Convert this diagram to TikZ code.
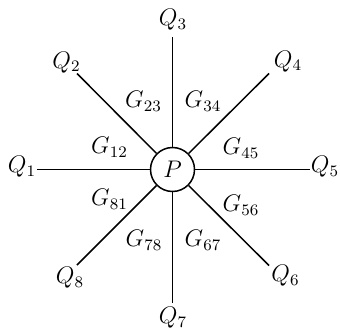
\documentclass[tikz,border=0pt]{standalone}
\begin{document}
\begin{tikzpicture}[x=0.5pt,y=-0.5pt,
  font=\fontsize{12}{14}\selectfont,
  spoke/.style={line width=0.75pt},
  hub/.style={circle,draw,line width=0.75pt,minimum size=22pt,inner sep=0pt},
  lab/.style={inner sep=0pt}]
\useasboundingbox (0,0) rectangle (340,331);
\node[hub] (P) at (172.5,169.5) {$P$};
% line ends
\coordinate (e1) at (36.5,169.5);
\coordinate (e2) at (77,73.5);
\coordinate (e3) at (172.5,37);
\coordinate (e4) at (269,73.5);
\coordinate (e5) at (310,169.5);
\coordinate (e6) at (269,265.5);
\coordinate (e7) at (172.5,303);
\coordinate (e8) at (77,265);
\foreach \i in {1,...,8} \draw[spoke] (P) -- (e\i);
% outer labels
\node[lab] (Q1) at (22,167) {$Q_1$};
\node[lab] (Q2) at (66.5,62.5) {$Q_2$};
\node[lab] (Q3) at (173,20) {$Q_3$};
\node[lab] (Q4) at (288,61.5) {$Q_4$};
\node[lab] (Q5) at (325,167) {$Q_5$};
\node[lab] (Q6) at (285.5,276) {$Q_6$};
\node[lab] (Q7) at (173,318) {$Q_7$};
\node[lab] (Q8) at (70,278) {$Q_8$};
% gap labels
\node[lab] (G12) at (109.5,147.5) {$G_{12}$};
\node[lab] (G23) at (143.5,101.5) {$G_{23}$};
\node[lab] (G34) at (203,101.5) {$G_{34}$};
\node[lab] (G45) at (241,148) {$G_{45}$};
\node[lab] (G56) at (241,205) {$G_{56}$};
\node[lab] (G67) at (203,240) {$G_{67}$};
\node[lab] (G78) at (144,240) {$G_{78}$};
\node[lab] (G81) at (109.5,199) {$G_{81}$};
\end{tikzpicture}
\end{document}
